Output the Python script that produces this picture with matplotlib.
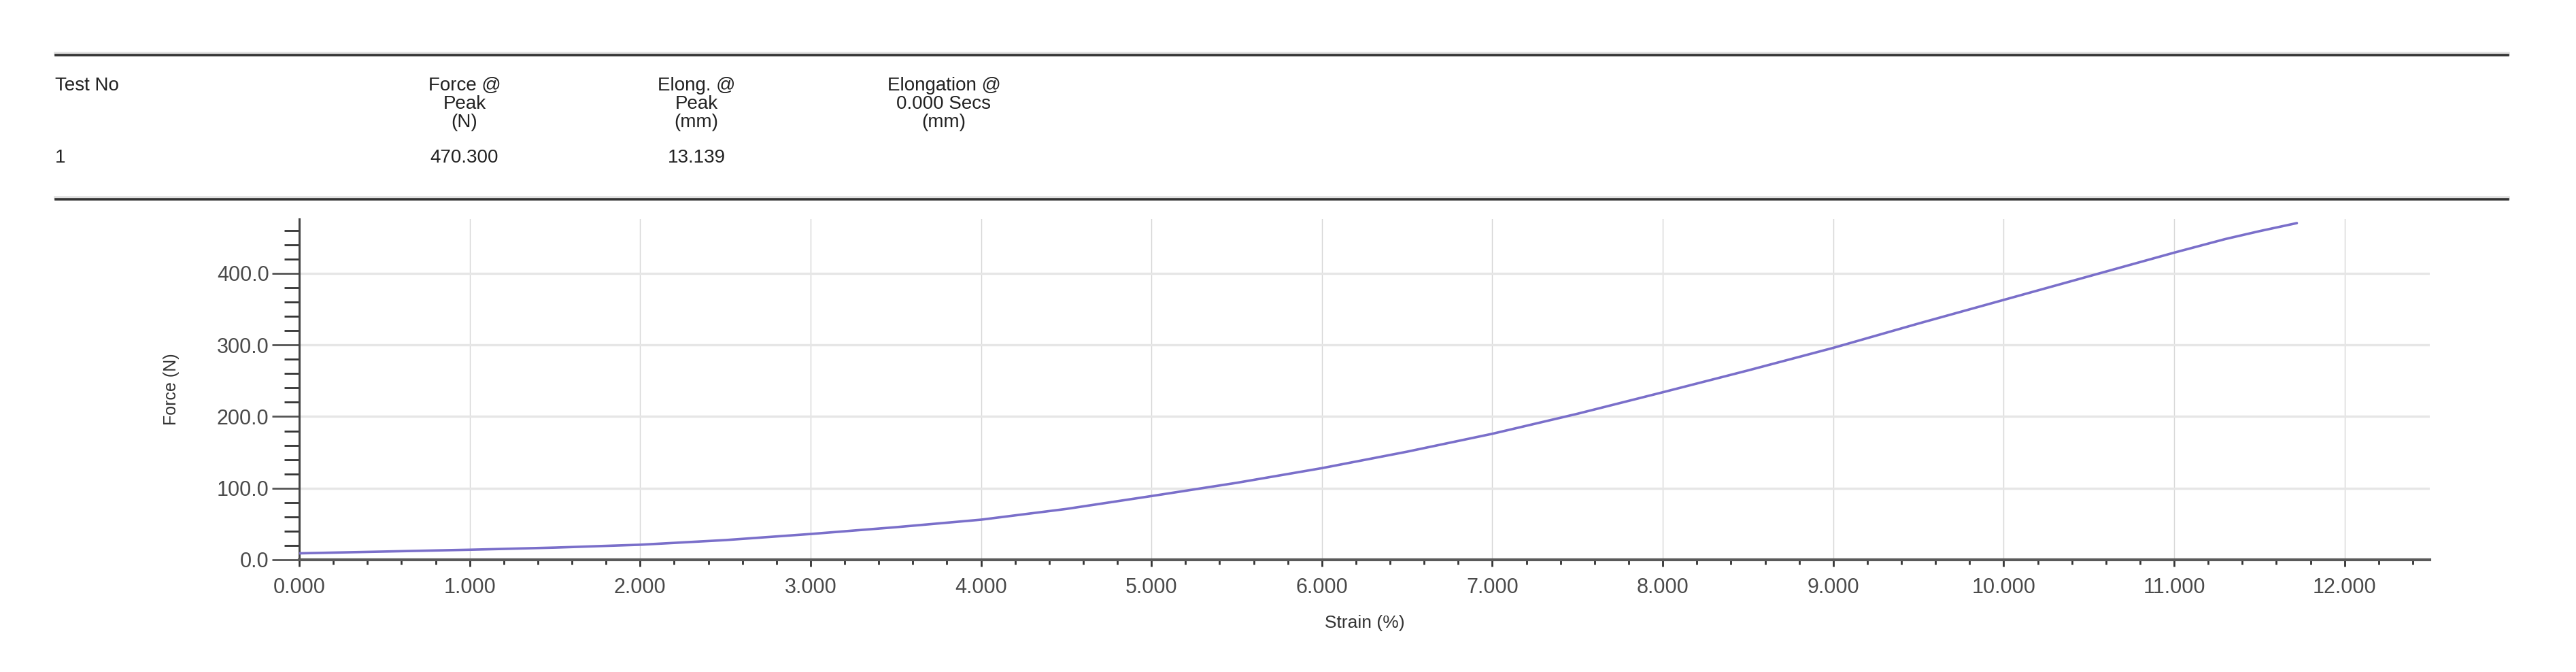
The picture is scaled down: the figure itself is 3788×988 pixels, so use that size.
import matplotlib
matplotlib.use('Agg')
import matplotlib.pyplot as plt
from matplotlib.lines import Line2D
from matplotlib.ticker import MultipleLocator, FormatStrFormatter

plt.rcParams['font.family'] = ['Liberation Sans', 'DejaVu Sans']

# header table
header_cols   = ['Test No', 'Force @\nPeak\n(N)', 'Elong. @\nPeak\n(mm)', 'Elongation @\n0.000 Secs\n(mm)']
header_values = ['1', '470.300', '13.139', '']

# force vs strain curve
strain = [0.0, 0.5, 1.0, 1.5, 2.0, 2.5, 3.0, 3.5, 4.0, 4.5, 5.0, 5.5, 6.0,
          6.5, 7.0, 7.5, 8.0, 8.5, 9.0, 9.5, 10.0, 10.5, 11.0, 11.3, 11.5, 11.72]
force  = [9.0, 11.5, 14.0, 17.0, 21.0, 27.5, 36.0, 45.5, 56.0, 71.0, 89.0, 107.5, 128.0,
          151.0, 176.0, 204.0, 234.0, 264.5, 296.0, 330.0, 363.0, 396.0, 429.0, 448.0, 459.0, 470.3]

W, H = 3788, 988
fig = plt.figure(figsize=(W / 100, H / 100), dpi=100, facecolor='white')

# ── horizontal rules around the header ─────────────────────
for y_px in (81, 293):
    yf = 1 - y_px / H
    fig.add_artist(Line2D([82 / W, 3688 / W], [yf + 2 / H, yf + 2 / H],
                          transform=fig.transFigure, color='#e0e0e0', lw=4.0))
    fig.add_artist(Line2D([82 / W, 3688 / W], [yf, yf],
                          transform=fig.transFigure, color='#333333', lw=2.6))

# ── header text ────────────────────────────────────────────
col_x  = [81, 683, 1024, 1388]
col_ha = ['left', 'center', 'center', 'center']
for x, ha, txt in zip(col_x, col_ha, header_cols):
    fig.text(x / W, 1 - 113 / H, txt, ha=ha, va='top', fontsize=20,
             linespacing=1.04, color='#222222')
for x, ha, txt in zip(col_x, col_ha, header_values):
    fig.text(x / W, 1 - 232 / H, txt, ha=ha, va='center', fontsize=20,
             color='#222222')

# ── chart ─────────────────────────────────────────────────
ax_l, ax_r, ax_b, ax_t = 440, 3573, 823, 322
ax = fig.add_axes([ax_l / W, 1 - ax_b / H, (ax_r - ax_l) / W, (ax_b - ax_t) / H])
ax.plot(strain, force, color='#7a6fca', lw=2.6, zorder=3,
        solid_joinstyle='round', solid_capstyle='round')

ax.set_xlim(0, 12.5)
ax.set_ylim(0, 476)

ax.xaxis.set_major_locator(MultipleLocator(1))
ax.xaxis.set_minor_locator(MultipleLocator(0.2))
ax.xaxis.set_major_formatter(FormatStrFormatter('%.3f'))
ax.yaxis.set_major_locator(MultipleLocator(100))
ax.yaxis.set_minor_locator(MultipleLocator(20))
ax.yaxis.set_major_formatter(FormatStrFormatter('%.1f'))

ax.xaxis.grid(True, which='major', color='#d6d6d6', lw=1.0)
ax.yaxis.grid(True, which='major', color='#e6e6e6', lw=2.4)
ax.set_axisbelow(True)

for sp in ('top', 'right'):
    ax.spines[sp].set_visible(False)
ax.spines['left'].set_color('#444444')
ax.spines['left'].set_linewidth(2.2)
ax.spines['bottom'].set_color('#5a5a5a')
ax.spines['bottom'].set_linewidth(3.0)

ax.tick_params(axis='x', which='major', direction='out', length=7, width=2,
               color='#333333', labelsize=22, labelcolor='#4a4a4a', pad=12)
ax.tick_params(axis='x', which='minor', direction='out', length=5, width=2,
               color='#333333')
ax.tick_params(axis='y', which='major', direction='out', length=29, width=2,
               color='#555555', labelsize=22, labelcolor='#4a4a4a', pad=3)
ax.tick_params(axis='y', which='minor', direction='out', length=16, width=2,
               color='#333333')

ax.set_xlabel('Strain (%)', fontsize=19, color='#333333')
ax.xaxis.set_label_coords(0.5, -(916 - ax_b) / (ax_b - ax_t), transform=ax.transAxes)
ax.xaxis.label.set_va('center')
ax.set_ylabel('Force (N)', fontsize=18, color='#333333')
ax.yaxis.set_label_coords(-(ax_l - 252) / (ax_r - ax_l), 0.5, transform=ax.transAxes)
ax.yaxis.label.set_va('center')

fig.savefig('out.png', dpi=100, facecolor='white')
